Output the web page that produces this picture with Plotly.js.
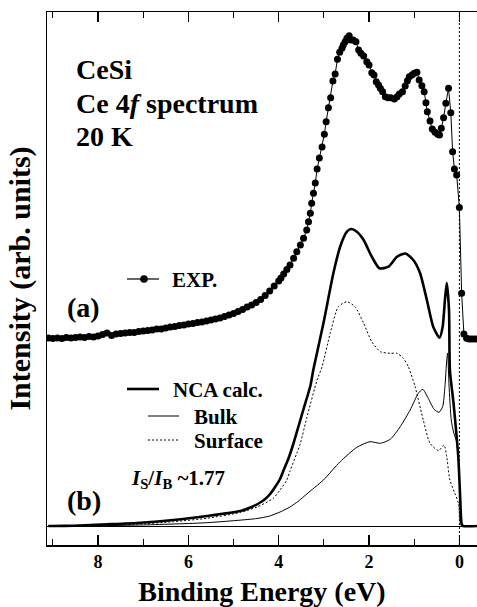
<!DOCTYPE html>
<html>
<head>
<meta charset="utf-8">
<script src="https://cdn.plot.ly/plotly-3.0.1.min.js"></script>
<style>html,body{margin:0;padding:0;background:#fff;}#chart{width:477px;height:607px;}</style>
</head>
<body>
<div id="chart"></div>
<script>
// ---- Data (binding energy in eV, intensity in arbitrary units) ----
const expE = [9.10,9.00,8.90,8.80,8.70,8.60,8.50,8.40,8.30,8.20,8.10,8.00,7.90,7.80,7.70,7.60,7.50,7.40,7.30,7.20,7.10,7.00,6.90,6.80,6.70,6.60,6.50,6.40,6.30,6.20,6.10,6.00,5.90,5.80,5.70,5.60,5.50,5.40,5.30,5.20,5.10,5.00,4.90,4.80,4.70,4.60,4.50,4.40,4.30,4.20,4.10,4.00,3.95,3.89,3.82,3.75,3.67,3.60,3.52,3.45,3.38,3.34,3.30,3.27,3.23,3.19,3.15,3.10,3.04,2.99,2.95,2.90,2.85,2.80,2.75,2.70,2.65,2.60,2.57,2.53,2.49,2.44,2.40,2.35,2.29,2.23,2.18,2.12,2.05,2.00,1.94,1.89,1.84,1.79,1.75,1.70,1.64,1.58,1.52,1.44,1.38,1.33,1.26,1.20,1.15,1.11,1.05,1.00,0.94,0.89,0.83,0.78,0.74,0.71,0.65,0.60,0.54,0.48,0.44,0.40,0.35,0.30,0.24,0.19,0.15,0.11,0.06,0.00,-0.05,-0.10,-0.16,-0.21,-0.27,-0.33,-0.39];
const expI = [1.880,1.875,1.880,1.875,1.885,1.880,1.885,1.890,1.885,1.895,1.890,1.900,1.915,1.930,1.905,1.920,1.925,1.930,1.935,1.935,1.945,1.950,1.955,1.960,1.970,1.970,1.980,1.990,1.995,2.005,2.010,2.020,2.025,2.035,2.040,2.050,2.060,2.070,2.080,2.095,2.110,2.125,2.145,2.165,2.190,2.210,2.235,2.265,2.305,2.350,2.400,2.450,2.480,2.520,2.565,2.610,2.677,2.743,2.810,2.877,2.960,3.043,3.127,3.227,3.327,3.430,3.570,3.680,3.790,3.917,4.043,4.183,4.283,4.450,4.520,4.667,4.737,4.777,4.810,4.843,4.877,4.903,4.860,4.860,4.843,4.760,4.727,4.700,4.643,4.610,4.533,4.510,4.443,4.410,4.377,4.343,4.293,4.283,4.283,4.270,4.293,4.320,4.343,4.400,4.453,4.493,4.510,4.527,4.537,4.460,4.403,4.343,4.233,4.143,4.050,3.970,3.937,3.917,3.910,3.977,4.083,4.227,4.377,4.133,3.743,3.570,3.510,3.185,2.327,1.920,1.877,1.870,1.870,1.870,1.870];

const ncaE = [9.10,8.98,8.54,7.80,7.06,6.33,5.59,4.85,4.60,4.41,4.30,4.19,4.08,3.97,3.89,3.78,3.67,3.56,3.45,3.30,3.23,3.01,2.79,2.64,2.49,2.40,2.27,2.12,1.94,1.77,1.57,1.38,1.19,1.02,0.87,0.72,0.58,0.44,0.37,0.32,0.28,0.23,0.21,0.13,0.06,0.02,-0.02,-0.05,-0.08,-0.39];
const ncaI = [0.000,0.000,0.003,0.017,0.033,0.060,0.100,0.150,0.190,0.235,0.270,0.320,0.390,0.470,0.560,0.680,0.830,1.000,1.170,1.400,1.570,2.027,2.527,2.793,2.943,2.970,2.943,2.860,2.693,2.577,2.593,2.693,2.725,2.660,2.527,2.260,1.993,1.883,1.993,2.260,2.433,2.160,1.560,1.230,0.890,0.660,0.260,0.020,0.000,0.000];

const bulkE = [9.10,8.98,8.54,7.06,5.59,4.48,4.20,3.97,3.75,3.56,3.38,3.01,2.64,2.27,1.98,1.75,1.53,1.31,1.09,0.91,0.81,0.69,0.56,0.45,0.37,0.32,0.28,0.26,0.23,0.18,0.13,0.06,0.01,-0.04,-0.08,-0.39];
const bulkI = [0.000,0.000,0.000,0.010,0.033,0.075,0.100,0.140,0.190,0.250,0.320,0.460,0.643,0.787,0.843,0.827,0.867,0.993,1.160,1.327,1.367,1.277,1.167,1.137,1.193,1.393,1.660,1.730,1.410,1.060,0.940,0.840,0.610,0.060,0.000,0.000];

const surfE = [9.10,7.80,7.06,6.33,5.59,4.85,4.48,4.12,3.97,3.82,3.75,3.60,3.52,3.38,3.15,3.04,2.86,2.68,2.49,2.31,2.12,1.94,1.75,1.53,1.38,1.24,1.13,0.98,0.80,0.65,0.46,0.34,0.28,0.21,0.10,0.02,-0.03,-0.08,-0.39];
const surfI = [0.000,0.007,0.020,0.043,0.077,0.135,0.190,0.277,0.360,0.460,0.550,0.727,0.827,1.080,1.460,1.593,1.927,2.193,2.243,2.193,2.027,1.843,1.743,1.727,1.727,1.677,1.593,1.393,1.060,0.827,0.753,0.810,0.693,0.460,0.327,0.227,0.010,0.000,0.000];

const xTickVals = [8, 6, 4, 2, 0];
const xTickText = ['8', '6', '4', '2', '0'];

// ---- Chart ----
const FONT = 'Liberation Serif, Times New Roman, serif';

const traces = [
  {x: surfE, y: surfI, type: 'scatter', mode: 'lines', line: {color: 'black', width: 1, dash: '2px,2px', shape: 'spline', smoothing: 0.6}, hoverinfo: 'skip'},
  {x: bulkE, y: bulkI, type: 'scatter', mode: 'lines', line: {color: 'black', width: 1, shape: 'spline', smoothing: 0.6}, hoverinfo: 'skip'},
  {x: ncaE, y: ncaI, type: 'scatter', mode: 'lines', line: {color: 'black', width: 2.6, shape: 'spline', smoothing: 0.6}, hoverinfo: 'skip'},
  {x: expE, y: expI, type: 'scatter', mode: 'lines+markers', line: {color: 'black', width: 1}, marker: {color: 'black', size: 7}, hoverinfo: 'skip'}
];

function px2x(px) { return (px - 47) / 430; }
function py2y(py) { return (545 - py) / 533; }

const ann = (text, px, py, size) => ({
  text: text, xref: 'paper', yref: 'paper', x: px2x(px), y: py2y(py),
  xanchor: 'left', yanchor: 'middle', showarrow: false,
  font: {family: FONT, size: size, color: 'black', weight: 'bold'}
});

const layout = {
  width: 477, height: 607,
  margin: {l: 47, r: 0, t: 12, b: 62},
  paper_bgcolor: 'white', plot_bgcolor: 'white',
  showlegend: false,
  font: {family: FONT, color: 'black', weight: 'bold'},
  xaxis: {
    range: [9.13, -0.39],
    showline: true, linecolor: 'black', linewidth: 1.5, mirror: 'ticks',
    ticks: 'inside', ticklen: 10, tickwidth: 1.5, tickcolor: 'black',
    tickvals: xTickVals, ticktext: xTickText,
    tickfont: {family: FONT, size: 18, color: 'black', weight: 'bold'},
    minor: {dtick: 1, tick0: 0, ticks: 'inside', ticklen: 6, tickwidth: 1.2, tickcolor: 'black', showgrid: false},
    showgrid: false, zeroline: false,
    title: {text: '<b>Binding Energy (eV)</b>', font: {family: FONT, size: 28, color: 'black', weight: 'bold'}, standoff: 10}
  },
  yaxis: {
    range: [-0.19, 5.14],
    showline: true, linecolor: 'black', linewidth: 1.5, mirror: false,
    ticks: '', showticklabels: false, showgrid: false,
    zeroline: true, zerolinecolor: 'black', zerolinewidth: 1,
    title: {text: '<b>Intensity (arb. units)</b>', font: {family: FONT, size: 30, color: 'black', weight: 'bold'}, standoff: 6}
  },
  shapes: [
    {type: 'line', xref: 'x', yref: 'paper', x0: 0, x1: 0, y0: 0, y1: 1, line: {color: 'black', width: 1, dash: '2px,2px'}},
    {type: 'line', xref: 'paper', yref: 'paper', x0: px2x(127), x1: px2x(159), y0: py2y(279), y1: py2y(279), line: {color: 'black', width: 1.2}},
    {type: 'circle', xref: 'paper', yref: 'paper', xsizemode: 'pixel', ysizemode: 'pixel', xanchor: px2x(144), yanchor: py2y(279), x0: -3.8, x1: 3.8, y0: -3.8, y1: 3.8, fillcolor: 'black', line: {color: 'black', width: 0}},
    {type: 'line', xref: 'paper', yref: 'paper', x0: px2x(127), x1: px2x(159), y0: py2y(389), y1: py2y(389), line: {color: 'black', width: 2.6}},
    {type: 'line', xref: 'paper', yref: 'paper', x0: px2x(148), x1: px2x(179), y0: py2y(416), y1: py2y(416), line: {color: 'black', width: 1}},
    {type: 'line', xref: 'paper', yref: 'paper', x0: px2x(148), x1: px2x(179), y0: py2y(440), y1: py2y(440), line: {color: 'black', width: 1, dash: '2px,2px'}}
  ],
  annotations: [
    ann('<b>CeSi</b>', 74, 70, 28),
    ann('<b>Ce 4<i>f</i> spectrum</b>', 74, 104, 28),
    ann('<b>20 K</b>', 74, 137, 28),
    ann('<b>EXP.</b>', 170, 280, 21),
    ann('<b>(a)</b>', 65, 307, 28),
    ann('<b>NCA calc.</b>', 171, 390, 21),
    ann('<b>Bulk</b>', 192, 417, 21),
    ann('<b>Surface</b>', 192, 441, 21),
    ann('<b><i>I</i><sub>S</sub>/<i>I</i><sub>B</sub> ~1.77</b>', 129, 479, 21),
    ann('<b>(b)</b>', 65, 500, 28)
  ]
};

Plotly.newPlot('chart', traces, layout, {staticPlot: true, displayModeBar: false});
</script>
</body>
</html>
